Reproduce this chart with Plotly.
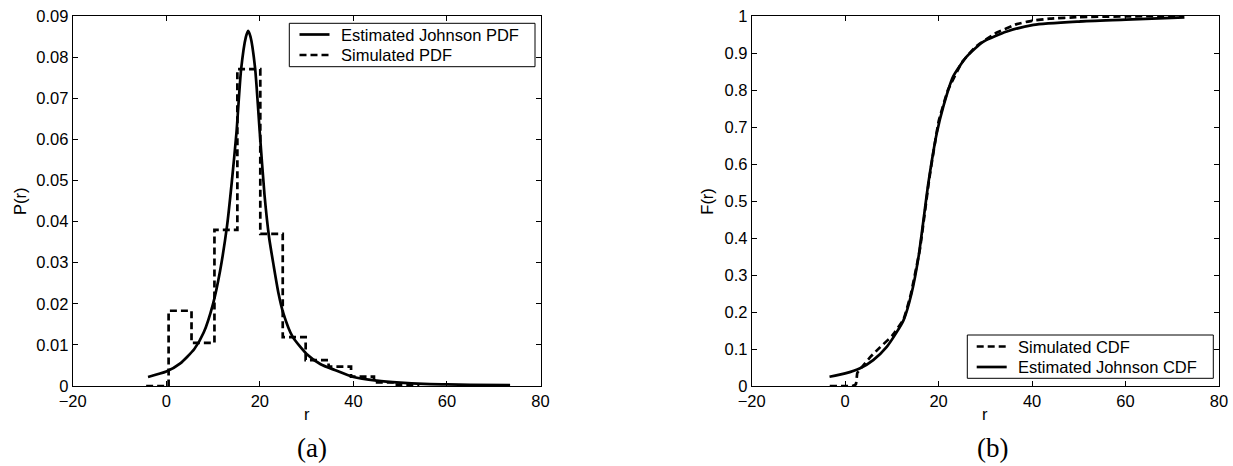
import plotly.graph_objects as go

# ---------------- data ----------------
# (a) Estimated Johnson PDF
pdf_r = [-3.9, 0, 3, 6, 8, 10, 11.5, 13, 14, 15, 16, 17, 17.5, 18, 19, 20, 21, 22,
         23, 24, 25, 27, 30, 33, 36, 40, 45, 50, 55, 60, 65, 73.5]
pdf_v = [0.0022, 0.0035, 0.0055, 0.0090, 0.0130, 0.0200, 0.0280, 0.0390, 0.0495,
         0.0615, 0.0770, 0.0848, 0.0864, 0.0850, 0.0772, 0.0615, 0.0465, 0.0360,
         0.0290, 0.0225, 0.0178, 0.0120, 0.0078, 0.0053, 0.0039, 0.0022, 0.0013,
         0.0008, 0.0005, 0.0004, 0.0003, 0.0002]

# (a) Simulated PDF (histogram, stairs)
hist_edges = [-4.3, 0.5, 5.4, 10.3, 15.2, 20.1, 24.9, 29.8, 34.7, 39.5, 44.4, 49.3, 54.1]
hist_heights = [0, 0.0183, 0.0105, 0.0380, 0.0771, 0.0370, 0.0119, 0.0063, 0.0047,
                0.0023, 0.0009, 0.0003]

# (b) Estimated Johnson CDF
cdf_r = [-3.35, 0, 3.2, 6, 8.9, 11, 12.5, 14.2, 15.7, 17.8, 19.6, 21, 23.1, 26,
         29.6, 34.6, 40.3, 50, 60.1, 72.6]
cdf_v = [0.025, 0.034, 0.048, 0.070, 0.106, 0.145, 0.178, 0.25, 0.349, 0.548, 0.683,
         0.755, 0.836, 0.89, 0.931, 0.958, 0.976, 0.985, 0.990, 0.9964]

# (b) Simulated CDF
sim_cdf_r = [-3.3, 1.5, 2.3, 2.6, 3.5, 5.5, 7.5, 10, 12.5, 14, 16, 18, 20, 22, 25, 28,
             32, 36.7, 39.9, 43.8, 50, 60, 72.5]
sim_cdf_v = [0, 0, 0.005, 0.035, 0.05, 0.08, 0.105, 0.135, 0.18, 0.245, 0.37, 0.56,
             0.715, 0.8, 0.875, 0.918, 0.952, 0.978, 0.987, 0.993, 0.997, 0.999, 1.0]

x_ticks = [-20, 0, 20, 40, 60, 80]
pdf_ticks = [0, 0.01, 0.02, 0.03, 0.04, 0.05, 0.06, 0.07, 0.08, 0.09]
cdf_ticks = [0, 0.1, 0.2, 0.3, 0.4, 0.5, 0.6, 0.7, 0.8, 0.9, 1]

legend_a = ["Estimated Johnson PDF", "Simulated PDF"]
legend_b = ["Simulated CDF", "Estimated Johnson CDF"]

# ---------------- figure ----------------
W, H = 1233, 466
T, B = 16, 80
PH = H - T - B
FONT = "Liberation Sans, Arial, Helvetica, sans-serif"
SERIF = "Liberation Serif, Times New Roman, serif"
FS = 16.5
LW = 2.7
DASH = "7px,4px"


def px(xp):
    return xp / W


def py(yp):
    return 1 - (yp - T) / PH


fig = go.Figure()

fig.add_trace(go.Scatter(
    x=pdf_r, y=pdf_v, mode="lines", name=legend_a[0],
    line=dict(color="black", width=LW, shape="spline", smoothing=0.6),
    xaxis="x", yaxis="y"))
fig.add_trace(go.Scatter(
    x=hist_edges, y=hist_heights + [hist_heights[-1]], mode="lines", name=legend_a[1],
    line=dict(color="black", width=LW, dash=DASH, shape="hv"),
    xaxis="x", yaxis="y"))
fig.add_trace(go.Scatter(
    x=sim_cdf_r, y=sim_cdf_v, mode="lines", name=legend_b[0],
    line=dict(color="black", width=LW, dash=DASH, shape="spline", smoothing=0.3),
    xaxis="x2", yaxis="y2"))
fig.add_trace(go.Scatter(
    x=cdf_r, y=cdf_v, mode="lines", name=legend_b[1],
    line=dict(color="black", width=LW, shape="spline", smoothing=0.6),
    xaxis="x2", yaxis="y2"))

axis_common = dict(
    showline=True, linecolor="black", linewidth=1, mirror="ticks",
    ticks="inside", ticklen=5, tickcolor="black", tickwidth=1,
    showgrid=False, zeroline=False, automargin=False,
    tickfont=dict(family=FONT, size=FS, color="black"),
)

xl0, xl1 = 72.7 / W, 540.5 / W
xr0, xr1 = 751.7 / W, 1219.0 / W

fig.update_layout(
    template="none",
    width=W, height=H,
    margin=dict(l=0, r=0, t=T, b=B, pad=0),
    paper_bgcolor="white", plot_bgcolor="white",
    font=dict(family=FONT, size=FS, color="black"),
    showlegend=False,
    xaxis=dict(domain=[xl0, xl1], range=[-20, 80], tickvals=x_ticks, anchor="y", **axis_common),
    yaxis=dict(domain=[0, 1], range=[0, 0.09], tickvals=pdf_ticks, anchor="x", **axis_common),
    xaxis2=dict(domain=[xr0, xr1], range=[-20, 80], tickvals=x_ticks, anchor="y2", **axis_common),
    yaxis2=dict(domain=[0, 1], range=[0, 1], tickvals=cdf_ticks, anchor="x2", **axis_common),
)

# axis titles and panel labels
for text, xc, yc, ang in (("P(r)", 20, 201, -90), ("F(r)", 706.7, 201, -90),
                          ("r", 307, 414, 0), ("r", 985, 414, 0)):
    fig.add_annotation(text=text, x=px(xc), y=py(yc), xref="paper", yref="paper",
                       xanchor="center", yanchor="middle", showarrow=False, textangle=ang,
                       font=dict(family=FONT, size=FS, color="black"))
for text, xc in (("(a)", 312), ("(b)", 992)):
    fig.add_annotation(text=text, x=px(xc), y=py(448), xref="paper", yref="paper",
                       xanchor="center", yanchor="middle", showarrow=False,
                       font=dict(family=SERIF, size=27, color="black"))

# legends drawn as boxed keys
legends = [
    dict(box=(289.3, 23.3, 535.0, 66.7), rows=[(34.5, legend_a[0], None), (55.0, legend_a[1], DASH)],
         sx=(299.5, 329.5), tx=338.5),
    dict(box=(967.3, 335.0, 1213.3, 378.3), rows=[(346.5, legend_b[0], DASH), (367.0, legend_b[1], None)],
         sx=(976.7, 1006.7), tx=1016.0),
]
for lg in legends:
    x0, y0, x1, y1 = lg["box"]
    fig.add_shape(type="rect", xref="paper", yref="paper", x0=px(x0), x1=px(x1), y0=py(y1), y1=py(y0),
                  line=dict(color="black", width=1), fillcolor="white", layer="above")
    for yy, label, dash in lg["rows"]:
        fig.add_shape(type="line", xref="paper", yref="paper",
                      x0=px(lg["sx"][0]), x1=px(lg["sx"][1]), y0=py(yy), y1=py(yy),
                      line=dict(color="black", width=LW, dash=dash or "solid"), layer="above")
        fig.add_annotation(text=label, x=px(lg["tx"]), y=py(yy), xref="paper", yref="paper",
                           xanchor="left", yanchor="middle", showarrow=False,
                           font=dict(family=FONT, size=FS, color="black"))

fig.write_html(
    "out.html",
    config={"displayModeBar": False, "staticPlot": True},
    post_script="document.body.style.margin='0';document.body.style.overflow='hidden';",
)
